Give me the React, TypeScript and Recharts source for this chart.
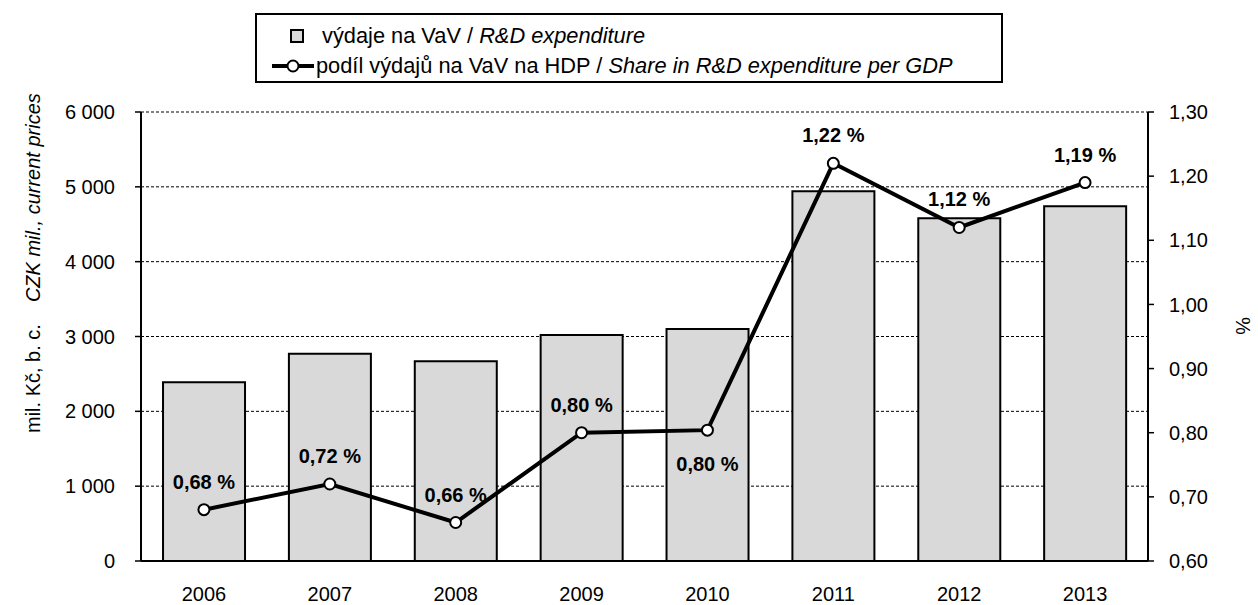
import React from 'react';
import { ComposedChart, Bar, Line, XAxis, YAxis, CartesianGrid, LabelList } from 'recharts';

// roky / years
const years = ['2006', '2007', '2008', '2009', '2010', '2011', '2012', '2013'];
// výdaje na VaV, mil. Kč
const expenditure = [2390, 2770, 2670, 3020, 3100, 4940, 4580, 4740];
// podíl na HDP, %
const gdpShare = [0.68, 0.72, 0.66, 0.8, 0.804, 1.22, 1.12, 1.19];

const leftTicks = [0, 1000, 2000, 3000, 4000, 5000, 6000];
const rightTicks = [0.6, 0.7, 0.8, 0.9, 1.0, 1.1, 1.2, 1.3];
const boundaryTicks = [0, 1, 2, 3, 4, 5, 6, 7, 8];
const labelsBelow = ['2010'];

const data = years.map((year, i) => ({
  year,
  expenditure: expenditure[i],
  share: gdpShare[i],
}));

const FONT = '"Liberation Sans", Arial, sans-serif';

const fmtThousands = (v: number) => String(v).replace(/\B(?=(\d{3})+(?!\d))/g, ' ');
const fmtDecimal = (v: number) => v.toFixed(2).replace('.', ',');

function ShareLabel(props: any) {
  const { x, y, value, index } = props;
  const below = labelsBelow.includes(years[index]);
  return (
    <text
      x={x}
      y={below ? y + 41 : y - 21}
      textAnchor="middle"
      fontFamily={FONT}
      fontSize={20}
      fontWeight="bold"
      fill="#000"
    >
      {fmtDecimal(value)} %
    </text>
  );
}

function LegendBox() {
  return (
    <div
      style={{
        position: 'absolute',
        left: 255,
        top: 13,
        width: 748,
        height: 70,
        border: '2px solid #000',
        boxSizing: 'border-box',
        background: '#fff',
        fontFamily: FONT,
        fontSize: 21.8,
        lineHeight: '25px',
        color: '#000',
      }}
    >
      <div style={{ position: 'absolute', left: 33, top: 14, width: 14, height: 14, background: '#d9d9d9', border: '2px solid #000', boxSizing: 'border-box' }} />
      <div style={{ position: 'absolute', left: 65, top: 8, whiteSpace: 'nowrap' }}>
        výdaje na VaV / <i>R&amp;D expenditure</i>
      </div>
      <svg style={{ position: 'absolute', left: 14, top: 44 }} width={44} height={14}>
        <line x1={1} y1={7} x2={43} y2={7} stroke="#000" strokeWidth={4} />
        <circle cx={22} cy={7} r={5.5} fill="#fff" stroke="#000" strokeWidth={2} />
      </svg>
      <div style={{ position: 'absolute', left: 59, top: 38, whiteSpace: 'nowrap' }}>
        podíl výdajů na VaV na HDP / <i>Share in R&amp;D expenditure per GDP</i>
      </div>
    </div>
  );
}

export default function App() {
  return (
    <div style={{ position: 'absolute', left: 0, top: 0, width: 1258, height: 605, background: '#fff' }}>
      <ComposedChart
        width={1258}
        height={605}
        data={data}
        margin={{ top: 112, right: 50, bottom: 14, left: 59 }}
        barCategoryGap="17.5%"
      >
        <CartesianGrid
          yAxisId="left"
          xAxisId="cat"
          vertical={false}
          stroke="#000"
          strokeDasharray="3 2"
          strokeWidth={1}
        />
        <XAxis
          xAxisId="bounds"
          type="number"
          domain={[0, 8]}
          ticks={boundaryTicks}
          height={0}
          tick={false}
          axisLine={false}
          tickLine={{ stroke: '#000', strokeWidth: 1.5 }}
          tickSize={6}
        />
        <XAxis
          xAxisId="cat"
          dataKey="year"
          height={30}
          tickLine={false}
          tickMargin={20}
          axisLine={{ stroke: '#000', strokeWidth: 2 }}
          tick={{ fill: '#000', fontSize: 20, fontFamily: FONT }}
        />
        <YAxis
          yAxisId="left"
          width={82}
          domain={[0, 6000]}
          ticks={leftTicks}
          tickFormatter={fmtThousands}
          axisLine={{ stroke: '#000', strokeWidth: 2 }}
          tickLine={{ stroke: '#000', strokeWidth: 1.5 }}
          tickSize={6}
          tickMargin={20}
          tick={{ fill: '#000', fontSize: 20, fontFamily: FONT }}
          label={{
            content: () => (
              <text
                x={40}
                y={433}
                textAnchor="start"
                fontFamily={FONT}
                fontSize={20}
                fill="#000"
                transform="rotate(-90 40 433)"
              >
                <tspan>mil. Kč, b. c.</tspan>
                <tspan dx={22} fontStyle="italic">CZK mil., current prices</tspan>
              </text>
            ),
          }}
        />
        <YAxis
          yAxisId="right"
          orientation="right"
          width={60}
          domain={[0.6, 1.3]}
          ticks={rightTicks}
          tickFormatter={fmtDecimal}
          axisLine={{ stroke: '#000', strokeWidth: 2 }}
          tickLine={{ stroke: '#000', strokeWidth: 1.5 }}
          tickSize={6}
          tickMargin={15}
          tick={{ fill: '#000', fontSize: 20, fontFamily: FONT }}
          label={{
            content: () => (
              <text
                x={1236}
                y={326}
                textAnchor="middle"
                fontFamily={FONT}
                fontSize={20}
                fill="#000"
                transform="rotate(90 1236 326)"
              >
                %
              </text>
            ),
          }}
        />
        <Bar
          xAxisId="cat"
          yAxisId="left"
          dataKey="expenditure"
          fill="#d9d9d9"
          stroke="#000"
          strokeWidth={2}
          isAnimationActive={false}
        />
        <Line
          xAxisId="cat"
          yAxisId="right"
          dataKey="share"
          stroke="#000"
          strokeWidth={4}
          dot={{ r: 5.5, fill: '#fff', stroke: '#000', strokeWidth: 2 }}
          activeDot={false}
          isAnimationActive={false}
        >
          <LabelList dataKey="share" content={ShareLabel} />
        </Line>
      </ComposedChart>
      <LegendBox />
    </div>
  );
}
